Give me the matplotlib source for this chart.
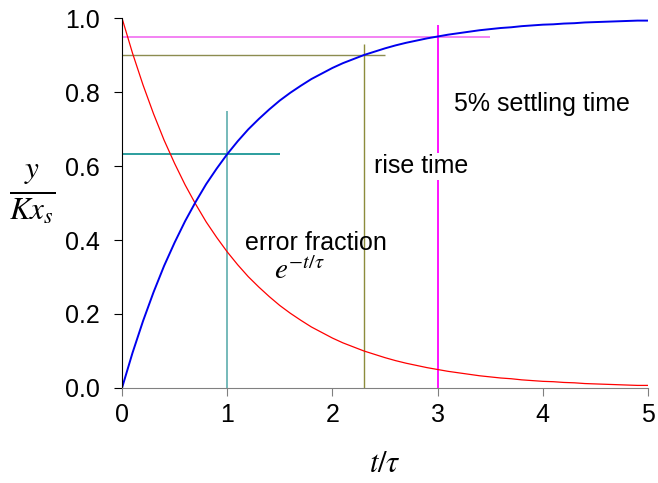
import numpy as np
import matplotlib.pyplot as plt

plt.rcParams['font.family'] = ['Liberation Sans', 'DejaVu Sans']
plt.rcParams['mathtext.fontset'] = 'stix'

# t / tau grid and curve values
t_tau = np.linspace(0, 5, 51)
response = [0.000, 0.095, 0.181, 0.259, 0.330, 0.393, 0.451, 0.503, 0.551, 0.593,
            0.632, 0.667, 0.699, 0.727, 0.753, 0.777, 0.798, 0.817, 0.835, 0.850,
            0.865, 0.878, 0.889, 0.900, 0.909, 0.918, 0.926, 0.933, 0.939, 0.945,
            0.950, 0.955, 0.959, 0.963, 0.967, 0.970, 0.973, 0.975, 0.978, 0.980,
            0.982, 0.983, 0.985, 0.986, 0.988, 0.989, 0.990, 0.991, 0.992, 0.993,
            0.993]
error = [1.000, 0.905, 0.819, 0.741, 0.670, 0.607, 0.549, 0.497, 0.449, 0.407,
         0.368, 0.333, 0.301, 0.273, 0.247, 0.223, 0.202, 0.183, 0.165, 0.150,
         0.135, 0.122, 0.111, 0.100, 0.091, 0.082, 0.074, 0.067, 0.061, 0.055,
         0.050, 0.045, 0.041, 0.037, 0.033, 0.030, 0.027, 0.025, 0.022, 0.020,
         0.018, 0.017, 0.015, 0.014, 0.012, 0.011, 0.010, 0.009, 0.008, 0.007,
         0.007]

# marker lines: (x, top of vertical, y, end of horizontal)
tau_mark = (1.0, 0.75, 0.632, 1.5)
rise_mark = (2.3, 0.93, 0.9, 2.5)
settle_mark = (3.0, 0.98, 0.95, 3.5)

fig = plt.figure(figsize=(6.58, 4.83), dpi=100)
ax = fig.add_axes([0.1854, 0.1967, 0.7994, 0.766])

ax.hlines(tau_mark[2], 0, tau_mark[3], color='#1a9696', lw=1.3)
ax.vlines(tau_mark[0], 0, tau_mark[1], color='#6ab4b4', lw=1.3)
ax.hlines(rise_mark[2], 0, rise_mark[3], color='#8c8c50', lw=1.0)
ax.vlines(rise_mark[0], 0, rise_mark[1], color='#8c8c3c', lw=1.0)
ax.hlines(settle_mark[2], 0, settle_mark[3], color='#f060f0', lw=1.1)
ax.vlines(settle_mark[0], 0, settle_mark[1], color='#ff00ff', lw=1.3)

ax.plot(t_tau, error, color='red', lw=0.9)
ax.plot(t_tau, response, color='#0000ee', lw=1.4)

ax.text(3.99, 0.768, '5% settling time', fontsize=18, ha='center', va='center',
        bbox=dict(facecolor='white', edgecolor='none', pad=1))
ax.text(2.84, 0.60, 'rise time', fontsize=18, ha='center', va='center',
        bbox=dict(facecolor='white', edgecolor='none', pad=1))
ax.text(1.84, 0.392, 'error fraction', fontsize=18, ha='center', va='center')
ax.text(1.69, 0.315, r'$e^{-t/\tau}$', fontsize=21, ha='center', va='center')

ax.set_xlim(0, 5)
ax.set_ylim(0, 1)
ax.set_xticks([0, 1, 2, 3, 4, 5])
ax.set_yticks([0, 0.2, 0.4, 0.6, 0.8, 1.0])
ax.set_yticklabels(['0.0', '0.2', '0.4', '0.6', '0.8', '1.0'])
ax.tick_params(labelsize=18, direction='out', length=6)
ax.tick_params(axis='x', color='#808080', pad=5)
ax.tick_params(axis='y', color='black', pad=10)
for s in ['top', 'right']:
    ax.spines[s].set_visible(False)
ax.spines['bottom'].set_color('#808080')
ax.spines['left'].set_color('black')

ax.set_xlabel(r'$t/\tau$', fontsize=22, labelpad=16)
fig.text(0.049, 0.60, r'$\frac{y}{Kx_s}$', fontsize=32, ha='center', va='center')

fig.savefig('out.png', dpi=100)
